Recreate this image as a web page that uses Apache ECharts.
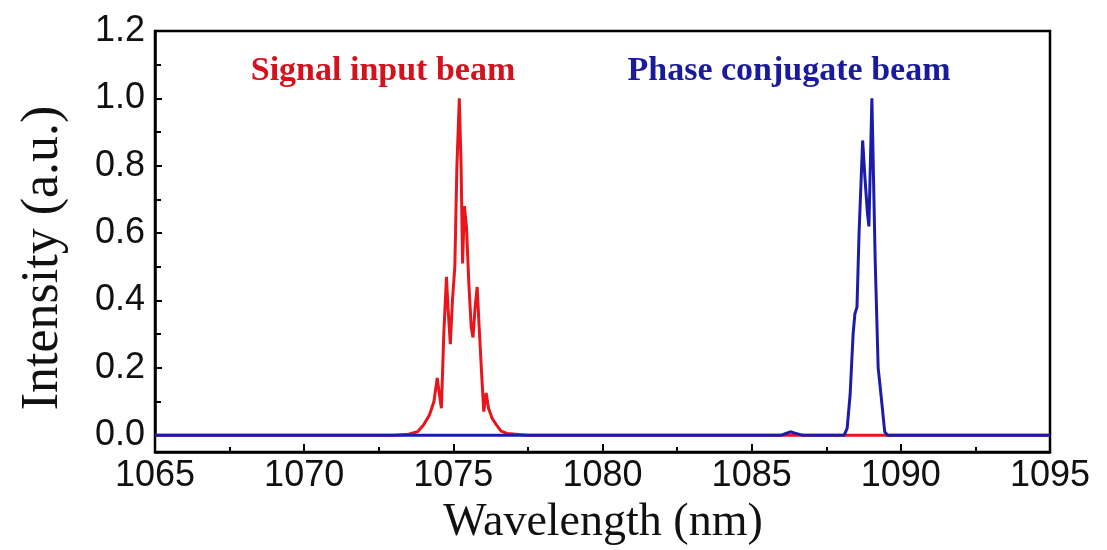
<!DOCTYPE html>
<html>
<head>
<meta charset="utf-8">
<title>Signal and phase conjugate spectra</title>
<script src="https://cdn.jsdelivr.net/npm/echarts@6/dist/echarts.min.js"></script>
<style>
  html, body { margin: 0; padding: 0; background: #ffffff; }
  #chart { width: 1107px; height: 550px; }
</style>
</head>
<body>
<div id="chart"></div>
<script>
// Spectrum of the signal input beam: [wavelength (nm), intensity (a.u.)]
const signalSpectrum = [
  [1065.0, 0], [1073.0, 0], [1073.5, 0.003], [1073.8, 0.01], [1074.0, 0.03],
  [1074.2, 0.06], [1074.35, 0.1], [1074.46, 0.17], [1074.52, 0.13], [1074.6, 0.08],
  [1074.68, 0.3], [1074.77, 0.47], [1074.82, 0.38], [1074.9, 0.27], [1074.97, 0.4],
  [1075.05, 0.5], [1075.12, 0.8], [1075.2, 1.0], [1075.26, 0.8], [1075.31, 0.51],
  [1075.37, 0.68], [1075.44, 0.62], [1075.52, 0.45], [1075.6, 0.32], [1075.66, 0.29],
  [1075.73, 0.38], [1075.8, 0.44], [1075.86, 0.33], [1075.95, 0.18], [1076.02, 0.07],
  [1076.1, 0.125], [1076.18, 0.08], [1076.3, 0.05], [1076.45, 0.03], [1076.6, 0.012],
  [1076.8, 0.005], [1077.2, 0.002], [1077.5, 0], [1095.0, 0]
];

// Spectrum of the phase conjugate beam: [wavelength (nm), intensity (a.u.)]
const conjugateSpectrum = [
  [1065.0, 0], [1086.0, 0], [1086.15, 0.005], [1086.3, 0.01], [1086.45, 0.006],
  [1086.7, 0], [1088.1, 0], [1088.2, 0.02], [1088.3, 0.12], [1088.4, 0.3],
  [1088.46, 0.36], [1088.53, 0.38], [1088.6, 0.6], [1088.72, 0.875], [1088.8, 0.76],
  [1088.88, 0.66], [1088.93, 0.62], [1089.03, 1.0], [1089.14, 0.52], [1089.24, 0.2],
  [1089.3, 0.15], [1089.38, 0.08], [1089.46, 0.01], [1089.55, 0], [1095.0, 0]
];

// Axis ranges
const xRange = [1065, 1095];
const yRange = [-0.05, 1.2];   // plotted intensity range (frame)
const yTickRange = [0, 1.2];   // range covered by the labelled ticks

// Text drawn on the figure
const xTitle = 'Wavelength (nm)';
const yTitle = 'Intensity (a.u.)';
const signalName = 'Signal input beam';
const conjugateName = 'Phase conjugate beam';

// Frame placement in pixels
const frame = { left: 155, right: 57, top: 31, bottom: 98 };
const frameHeight = 550 - frame.top - frame.bottom;
// The tick axis starts at intensity 0, slightly above the bottom of the frame
const tickBottom = frame.bottom + frameHeight * (yTickRange[0] - yRange[0]) / (yRange[1] - yRange[0]);

const chart = echarts.init(document.getElementById('chart'), null, { renderer: 'canvas' });

const tickFont = { fontFamily: '"Liberation Sans", Arial, sans-serif', fontSize: 36, color: '#111' };
const black = { color: '#000', width: 2.5 };

chart.setOption({
  animation: false,
  backgroundColor: '#ffffff',
  grid: [
    {
      left: frame.left, right: frame.right, top: frame.top, bottom: frame.bottom,
      show: true, borderColor: '#000', borderWidth: 2.5, backgroundColor: 'transparent'
    },
    {
      left: frame.left, right: frame.right, top: frame.top, bottom: tickBottom
    }
  ],
  xAxis: [
    {
      gridIndex: 0,
      type: 'value',
      min: xRange[0],
      max: xRange[1],
      interval: 5,
      axisLine: { show: true, onZero: false, lineStyle: black },
      axisTick: { show: true, inside: true, length: 8, lineStyle: { color: '#000', width: 2 } },
      minorTick: { show: true, splitNumber: 2, length: 5, lineStyle: { color: '#000', width: 2 } },
      splitLine: { show: false },
      axisLabel: Object.assign({ margin: 6, formatter: v => String(v) }, tickFont)
    },
    { gridIndex: 1, type: 'value', min: xRange[0], max: xRange[1], show: false }
  ],
  yAxis: [
    {
      gridIndex: 0,
      type: 'value',
      min: yRange[0],
      max: yRange[1],
      show: false
    },
    {
      gridIndex: 1,
      type: 'value',
      min: yTickRange[0],
      max: yTickRange[1],
      interval: 0.2,
      axisLine: { show: true, onZero: false, lineStyle: black },
      axisTick: { show: true, inside: true, length: 7, lineStyle: { color: '#000', width: 2 } },
      minorTick: { show: true, splitNumber: 2, length: 6, lineStyle: { color: '#000', width: 2 } },
      splitLine: { show: false },
      minorSplitLine: { show: false },
      axisLabel: Object.assign({ margin: 10, formatter: v => v.toFixed(1) }, tickFont)
    }
  ],
  series: [
    {
      name: signalName,
      type: 'line',
      xAxisIndex: 0,
      yAxisIndex: 0,
      data: signalSpectrum,
      showSymbol: false,
      lineStyle: { color: '#e8161c', width: 3 },
      z: 2
    },
    {
      name: conjugateName,
      type: 'line',
      xAxisIndex: 0,
      yAxisIndex: 0,
      data: conjugateSpectrum,
      showSymbol: false,
      lineStyle: { color: '#1c1caa', width: 3 },
      z: 3
    }
  ],
  graphic: [
    {
      type: 'text', x: 383, y: 71,
      style: {
        text: signalName, fill: '#d4121e', align: 'center', verticalAlign: 'middle',
        font: 'bold 34px "Liberation Serif", "Times New Roman", serif'
      }
    },
    {
      type: 'text', x: 789, y: 71,
      style: {
        text: conjugateName, fill: '#1a1a9c', align: 'center', verticalAlign: 'middle',
        font: 'bold 34px "Liberation Serif", "Times New Roman", serif'
      }
    },
    {
      type: 'text', x: 603, y: 523,
      style: {
        text: xTitle, fill: '#111', align: 'center', verticalAlign: 'middle',
        font: '46px "Liberation Serif", "Times New Roman", serif'
      }
    },
    {
      type: 'text', x: 43, y: 258, rotation: Math.PI / 2,
      style: {
        text: yTitle, fill: '#111', align: 'center', verticalAlign: 'middle',
        font: '52px "Liberation Serif", "Times New Roman", serif'
      }
    }
  ]
});
</script>
</body>
</html>
